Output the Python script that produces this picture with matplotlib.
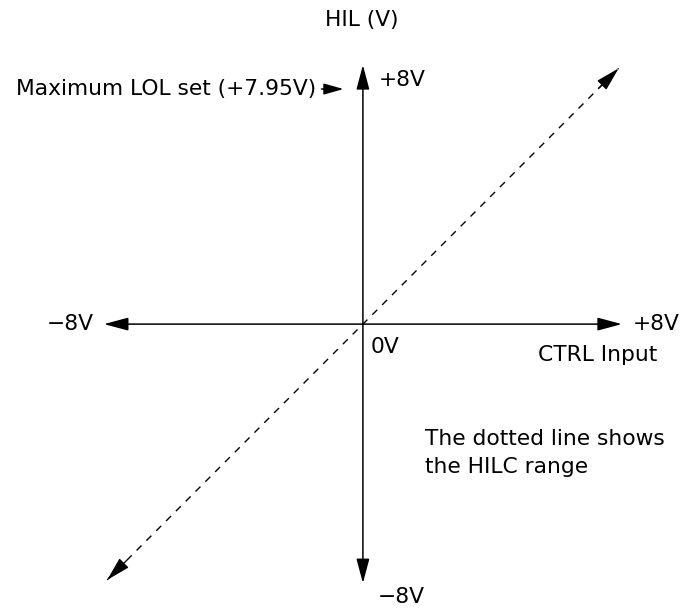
import numpy as np
import matplotlib
matplotlib.use("Agg")
import matplotlib.pyplot as plt

# values (volts)
axis_limits = [-8, 8]          # CTRL input / HIL axis ends
hilc_range = [-7.9, 7.9]       # dashed HILC line ends
lol_max = 7.95                 # label value
lol_arrow_y = 7.26             # where the label arrow points on the HIL axis

plt.rcParams['font.family'] = ['DejaVu Sans']

fig = plt.figure(figsize=(6.86, 6.10), dpi=100)
ax = fig.add_axes([0, 0, 1, 1])
ax.set_xlim(-11.21, 9.98)
ax.set_ylim(-8.83, 10.01)
ax.axis('off')

head = dict(arrowstyle='-|>,head_length=0.75,head_width=0.2', mutation_scale=20,
            color='black', lw=1.1, shrinkA=0, shrinkB=0)

def vlabel(v):
    return ('+%dV' % v) if v > 0 else ('\u2212%dV' % abs(v))

# axes drawn as arrows from origin
for x in axis_limits:
    ax.annotate('', xy=(x, 0), xytext=(0, 0), arrowprops=head)
for y in axis_limits:
    ax.annotate('', xy=(0, y), xytext=(0, 0), arrowprops=head)

# dashed HILC range line, arrows both ends
ax.plot(hilc_range, hilc_range, color='black', lw=1.0, linestyle=(0, (5, 5)))
ax.annotate('', xy=(hilc_range[1], hilc_range[1]), xytext=(hilc_range[1] - 0.6, hilc_range[1] - 0.6),
            arrowprops=dict(head, lw=0.9))
ax.annotate('', xy=(hilc_range[0], hilc_range[0]), xytext=(hilc_range[0] + 0.6, hilc_range[0] + 0.6),
            arrowprops=dict(head, lw=0.9))

fs = 15.7
ax.text(-8.3, 0, vlabel(axis_limits[0]), ha='right', va='center', fontsize=fs)
ax.text(8.35, 0, vlabel(axis_limits[1]), ha='left', va='center', fontsize=fs)
ax.text(0.25, -0.4, '0V', ha='left', va='top', fontsize=fs)
ax.text(9.1, -0.95, 'CTRL Input', ha='right', va='center', fontsize=fs)
ax.text(0.5, 7.55, vlabel(axis_limits[1]), ha='left', va='center', fontsize=fs)
ax.text(0.45, -8.43, vlabel(axis_limits[0]), ha='left', va='center', fontsize=fs)
ax.text(-0.05, 9.39, 'HIL (V)', ha='center', va='center', fontsize=fs)

ax.annotate('Maximum LOL set (+%.2fV)' % lol_max, xy=(-0.6, lol_arrow_y),
            xytext=(-1.45, lol_arrow_y), ha='right', va='center', fontsize=fs,
            arrowprops=dict(arrowstyle='-|>,head_length=0.6,head_width=0.17',
                            mutation_scale=20, color='black', lw=1.1,
                            shrinkA=2, shrinkB=0))

ax.text(1.92, -3.98, 'The dotted line shows\nthe HILC range', ha='left', va='center',
        fontsize=fs, linespacing=1.55)

fig.savefig('out.png', dpi=100, facecolor='white')
